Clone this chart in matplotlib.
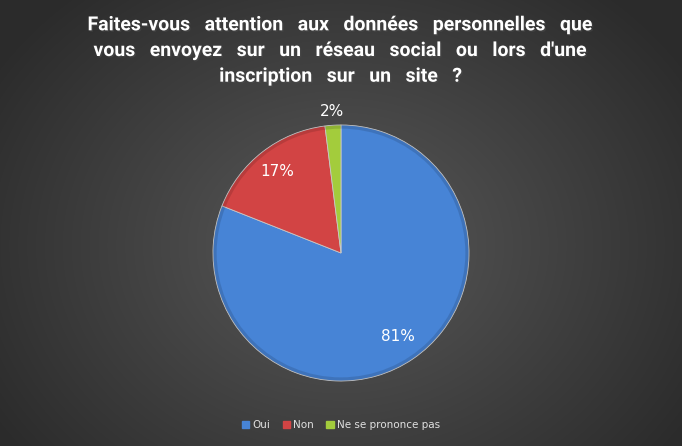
import matplotlib.pyplot as plt
import matplotlib.patheffects as pe
import numpy as np

# données du sondage
labels = ['Oui', 'Non', 'Ne se prononce pas']
values = [81, 17, 2]
colors = ['#4784d6', '#d24444', '#a3cc3c']
title_lines = ["Faites-vous attention aux données personnelles que",
               "vous envoyez sur un réseau social ou lors d'une",
               "inscription sur un site ?"]

W, H = 682, 446
fig = plt.figure(figsize=(W / 100, H / 100), dpi=100)

# fond en dégradé radial
bg = fig.add_axes([0, 0, 1, 1])
yy, xx = np.mgrid[0:H, 0:W]
d = np.sqrt(((xx - W / 2) / (W * 0.6)) ** 2 + ((yy - H * 0.55) / (H * 0.75)) ** 2)
g = np.clip(0.35 - 0.18 * d, 0.17, 0.4)
bg.imshow(np.dstack([g, g, g]), aspect='auto', extent=[0, 1, 0, 1])
bg.axis('off')

# camembert
cx, cy, r = 341, 253, 128
ax = fig.add_axes([(cx - r) / W, (H - cy - r) / H, 2 * r / W, 2 * r / H])
wedges, _ = ax.pie(values, colors=colors, startangle=90, counterclock=False,
                   radius=1, wedgeprops=dict(edgecolor='#c8c8c8', linewidth=0.6))
# léger biseau sur le bord
ax.add_patch(plt.Circle((0, 0), 0.985, fill=False, edgecolor=(0, 0, 0, 0.12), linewidth=2.5))
ax.set_xlim(-1, 1)
ax.set_ylim(-1, 1)
ax.set_aspect('equal')
ax.axis('off')

dists = [0.79, 0.81, 1.11]
for w, v, dd in zip(wedges, values, dists):
    ang = np.deg2rad((w.theta1 + w.theta2) / 2)
    ax.text(dd * np.cos(ang), dd * np.sin(ang), f'{v}%', color='white',
            fontsize=11, ha='center', va='center', clip_on=False)

title = '\n'.join(l.replace(' ', '   ') for l in title_lines)
fig.text(0.5, 1 - 51 / H, title, ha='center', va='center', color='white',
         fontsize=14, fontweight='bold', linespacing=1.55,
         family=['Roboto', 'DejaVu Sans'],
         path_effects=[pe.withSimplePatchShadow(offset=(1, -1), alpha=0.5)])

handles = [plt.Rectangle((0, 0), 1, 1, color=c) for c in colors]
fig.legend(handles, labels, loc='center', bbox_to_anchor=(0.5, 1 - 425 / H),
           ncol=3, frameon=False, fontsize=7.5, labelcolor='#e0e0e0',
           handlelength=0.7, handleheight=0.7, handletextpad=0.3, columnspacing=1.2)

fig.savefig('out.png', dpi=100)
